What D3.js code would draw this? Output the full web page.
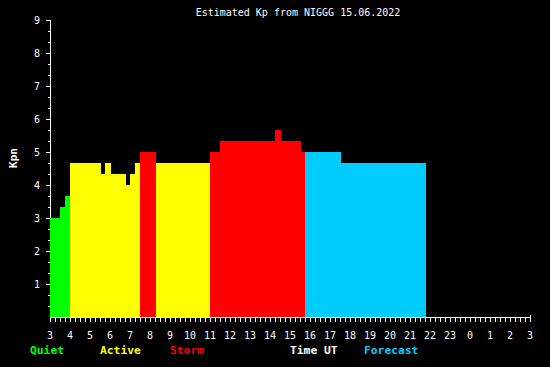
<!DOCTYPE html>
<html>
<head>
<meta charset="utf-8">
<script src="https://cdn.jsdelivr.net/npm/d3@7"></script>
<style>
  body { margin: 0; background: #000; }
  svg { display: block; }
  text { font-family: "DejaVu Sans Mono", "Liberation Mono", monospace; }
</style>
</head>
<body>
<svg id="chart"></svg>
<script>
// Kp segments, hours after 03 UT
const segStart = [0, 0.5, 0.75, 1.0, 2.55, 2.75, 3.05, 3.8, 4.0, 4.25, 4.5, 5.3, 8.0, 8.5, 11.25, 11.55, 12.55, 12.75, 14.55];
const segEnd   = [0.5, 0.75, 1.0, 2.55, 2.75, 3.05, 3.8, 4.0, 4.25, 4.5, 5.3, 8.0, 8.5, 11.25, 11.55, 12.55, 12.75, 14.55, 18.8];
const kpValues = [3.0, 3.33, 3.67, 4.67, 4.33, 4.67, 4.33, 4.0, 4.33, 4.67, 5.0, 4.67, 5.0, 5.33, 5.67, 5.33, 5.0, 5.0, 4.67];
const segKind  = ["quiet", "quiet", "quiet", "active", "active", "active", "active", "active", "active", "active",
                  "storm", "active", "storm", "storm", "storm", "storm", "storm", "forecast", "forecast"];
const hourLabels = ["3","4","5","6","7","8","9","10","11","12","13","14","15","16","17","18","19","20","21","22","23","0","1","2","3"];
const yLabels = [1, 2, 3, 4, 5, 6, 7, 8, 9];

const colors = { quiet: "#00ff00", active: "#ffff00", storm: "#ff0000", forecast: "#00ccff" };

const width = 550, height = 367;
const svg = d3.select("#chart").attr("width", width).attr("height", height)
    .style("background", "#000");

const x = d3.scaleLinear().domain([0, 24]).range([50, 530]);
const y = d3.scaleLinear().domain([0, 9]).range([317, 20]);

// title
svg.append("text")
    .attr("x", 298).attr("y", 16)
    .attr("text-anchor", "middle")
    .attr("fill", "#fff").attr("font-size", "10px")
    .text("Estimated Kp from NIGGG 15.06.2022");

// y axis
const yAxis = svg.append("g").attr("transform", "translate(50.5,0)").attr("shape-rendering", "crispEdges");
yAxis.append("line").attr("y1", y(9)).attr("y2", y(0)).attr("stroke", "#fff");
yAxis.selectAll(".ytick")
    .data(d3.range(1, 28))
    .join("line")
    .attr("x1", d => d % 3 === 0 ? -5 : -3).attr("x2", 0)
    .attr("y1", d => Math.round(y(d / 3)) + 0.5).attr("y2", d => Math.round(y(d / 3)) + 0.5)
    .attr("stroke", "#fff");
svg.selectAll(".ylab")
    .data(yLabels)
    .join("text")
    .attr("x", 40).attr("y", d => y(d) + 3.5)
    .attr("text-anchor", "end")
    .attr("fill", "#fff").attr("font-size", "10px")
    .text(d => d);

svg.append("text")
    .attr("transform", "translate(17,158) rotate(-90)")
    .attr("text-anchor", "middle")
    .attr("fill", "#fff").attr("font-size", "11px").attr("font-weight", "bold")
    .text("Kpn");

// x axis
const xAxis = svg.append("g").attr("shape-rendering", "crispEdges");
xAxis.append("line").attr("x1", x(0)).attr("x2", x(24) + 1).attr("y1", 317.5).attr("y2", 317.5).attr("stroke", "#fff");
xAxis.selectAll(".xtick")
    .data(d3.range(0, 97))
    .join("line")
    .attr("x1", d => Math.round(x(d / 4)) + 0.5).attr("x2", d => Math.round(x(d / 4)) + 0.5)
    .attr("y1", d => d === 96 ? 315 : 317).attr("y2", 322)
    .attr("stroke", "#fff");
svg.selectAll(".xlab")
    .data(hourLabels)
    .join("text")
    .attr("x", (d, i) => x(i)).attr("y", 339)
    .attr("text-anchor", "middle")
    .attr("fill", "#fff").attr("font-size", "10px")
    .text(d => d);

// bars
svg.append("g").attr("shape-rendering", "crispEdges")
    .selectAll("rect")
    .data(kpValues.map((v, i) => ({ s: segStart[i], e: segEnd[i], v: v, k: segKind[i] })))
    .join("rect")
    .attr("x", d => Math.round(x(d.s)))
    .attr("width", d => Math.round(x(d.e)) - Math.round(x(d.s)))
    .attr("y", d => Math.round(y(d.v)))
    .attr("height", d => Math.round(y(0)) - Math.round(y(d.v)))
    .attr("fill", d => colors[d.k]);

// legend
const legend = [
    { t: "Quiet", x: 30, c: colors.quiet },
    { t: "Active", x: 100, c: colors.active },
    { t: "Storm", x: 170, c: colors.storm },
    { t: "Time UT", x: 290, c: "#fff" },
    { t: "Forecast", x: 364, c: colors.forecast }
];
svg.selectAll(".leg")
    .data(legend)
    .join("text")
    .attr("x", d => d.x).attr("y", 354)
    .attr("fill", d => d.c).attr("font-size", "11.3px").attr("font-weight", "bold")
    .text(d => d.t);
</script>
</body>
</html>
